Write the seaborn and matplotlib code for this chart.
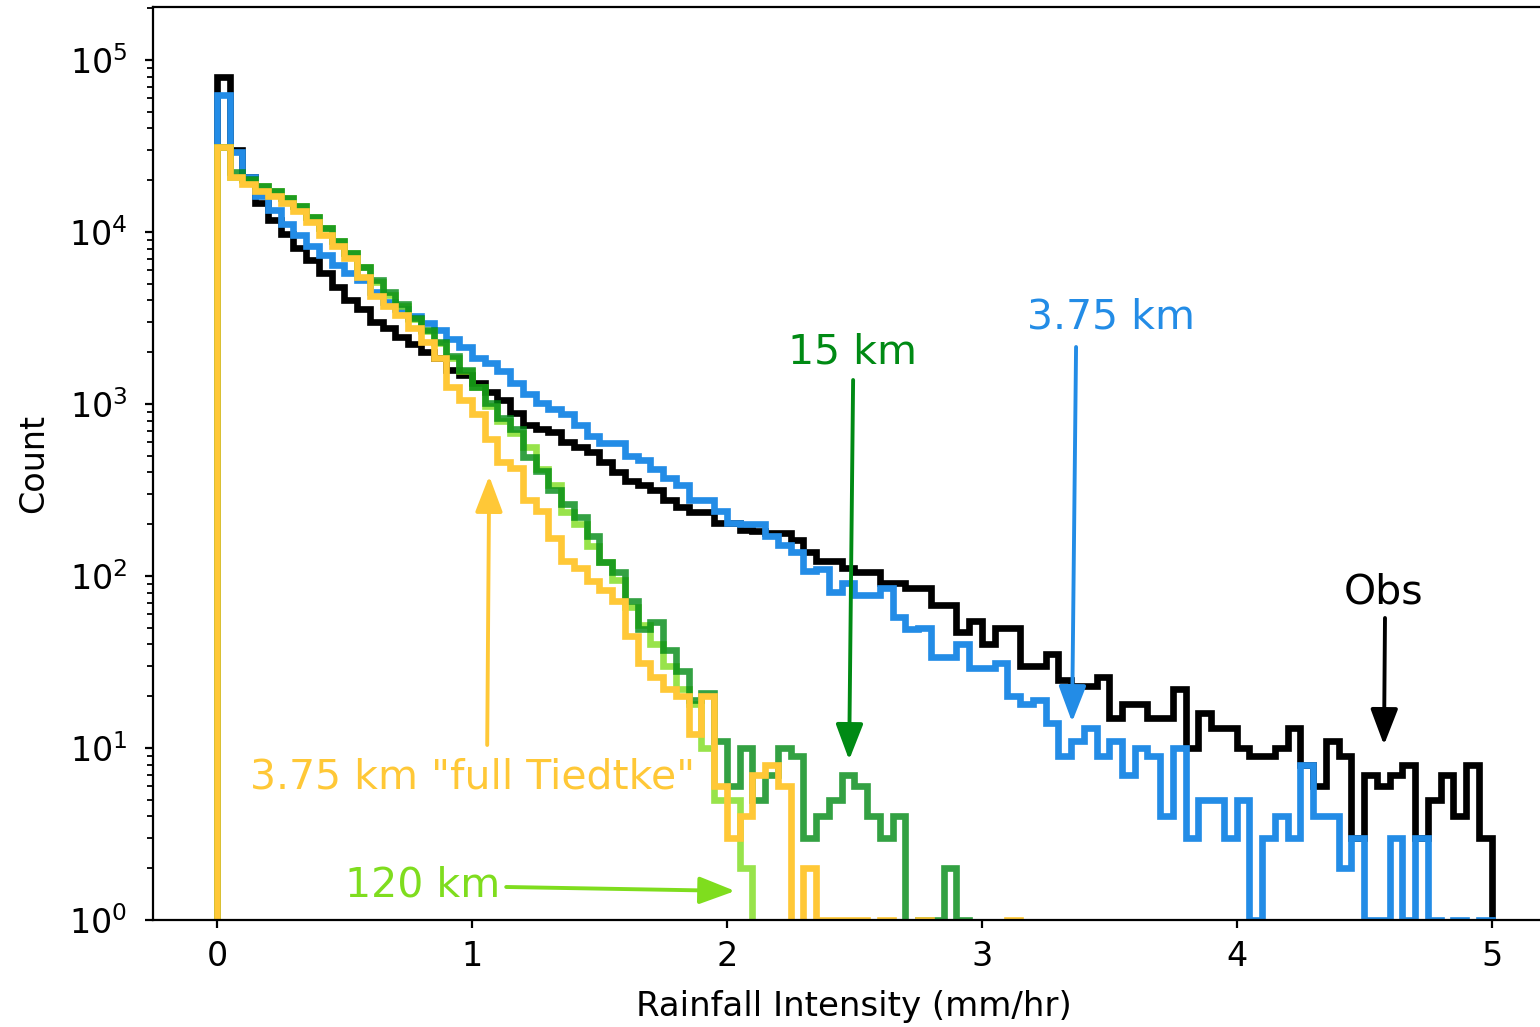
import numpy as np
import pandas as pd
import matplotlib
matplotlib.use("Agg")
import matplotlib.pyplot as plt
import seaborn as sns

# ---------------- data (counts per 0.05 mm/hr bin, 0 .. 5 mm/hr) ----------------
bin_width = 0.05
obs_counts = [80000, 30000, 20900, 14800, 11700, 9800, 8100, 6900, 5750, 4800,
              4000, 3550, 3000, 2750, 2450, 2240, 2000, 1860, 1580, 1480,
              1320, 1170, 1050, 890, 760, 720, 690, 600, 560, 525,
              457, 400, 355, 340, 316, 275, 251, 234, 234, 204,
              204, 186, 182, 178, 178, 162, 138, 123, 123, 112,
              105, 105, 91, 91, 85, 85, 68, 68, 47, 55,
              40, 50, 50, 30, 30, 35, 25, 23, 23, 26,
              15, 18, 18, 15, 15, 22, 10, 16, 13, 13,
              10, 9, 9, 10, 13, 8, 6, 11, 9, 3,
              7, 6, 7, 8, 3, 5, 7, 4, 8, 3]
km375_counts = [63000, 29000, 21000, 16200, 13500, 11200, 9550, 8300, 7400, 6450,
                5750, 5250, 4470, 3900, 3550, 3240, 2950, 2700, 2400, 2140,
                1860, 1740, 1550, 1320, 1150, 1020, 930, 870, 760, 650,
                590, 590, 500, 470, 420, 370, 340, 275, 275, 240,
                204, 200, 200, 170, 151, 138, 107, 110, 81, 91,
                78, 78, 85, 58, 49, 50, 34, 34, 40, 29,
                29, 31, 20, 18, 19, 14, 9, 11, 13, 9,
                11, 7, 10, 9, 4, 10, 3, 5, 5, 3,
                5, 1, 3, 4, 3, 8, 4, 4, 2, 3,
                1, 1, 3, 1, 3, 1, 0, 1, 0, 1]
km15_counts = [31000, 22400, 20400, 18600, 17400, 15800, 14100, 12300, 10500, 8900,
               7600, 6300, 5250, 4470, 3800, 3160, 2700, 2300, 1900, 1580,
               1260, 1020, 830, 720, 490, 407, 316, 263, 219, 170,
               120, 105, 72, 49, 54, 37, 28, 19, 21, 11,
               6, 10, 5, 7, 10, 9, 3, 4, 5, 7,
               6, 4, 3, 4, 0, 1, 1, 2, 1, 0,
               0, 0, 0, 0, 0, 0, 0, 0, 0, 0,
               0, 0, 0, 0, 0, 0, 0, 0, 0, 0,
               0, 0, 0, 0, 0, 0, 0, 0, 0, 0,
               0, 0, 0, 0, 0, 0, 0, 0, 0, 0]
km120_counts = [31000, 21000, 20000, 18600, 17400, 15800, 14100, 12300, 10500, 8900,
                7600, 6300, 5100, 4300, 3700, 3100, 2650, 2250, 1850, 1550,
                1250, 980, 800, 680, 560, 420, 340, 234, 200, 150,
                120, 95, 66, 52, 40, 30, 22, 18, 10, 5,
                5, 2, 0, 0, 0, 0, 0, 0, 0, 0,
                0, 0, 0, 0, 0, 0, 0, 0, 0, 0,
                0, 0, 0, 0, 0, 0, 0, 0, 0, 0,
                0, 0, 0, 0, 0, 0, 0, 0, 0, 0,
                0, 0, 0, 0, 0, 0, 0, 0, 0, 0,
                0, 0, 0, 0, 0, 0, 0, 0, 0, 0]
tiedtke_counts = [31000, 21000, 19000, 17400, 16200, 14800, 13200, 11500, 9550, 8300,
                  7100, 5500, 4270, 3700, 3300, 2750, 2300, 1860, 1260, 1050,
                  870, 630, 457, 427, 275, 240, 166, 123, 112, 93,
                  83, 72, 45, 31, 26, 22, 20, 12, 20, 6,
                  3, 4, 7, 8, 6, 0, 2, 1, 1, 1,
                  1, 0, 1, 0, 0, 1, 0, 0, 0, 0,
                  0, 0, 1, 0, 0, 0, 0, 0, 0, 0,
                  0, 0, 0, 0, 0, 0, 0, 0, 0, 0,
                  0, 0, 0, 0, 0, 0, 0, 0, 0, 0,
                  0, 0, 0, 0, 0, 0, 0, 0, 0, 0]

x_ticks = [0, 1, 2, 3, 4, 5]
x_label = "Rainfall Intensity (mm/hr)"
y_label = "Count"

# ---------------- styling ----------------
sns.set_style("ticks")
plt.rcParams["font.family"] = ["DejaVu Sans"]
plt.rcParams["lines.solid_joinstyle"] = "miter"
plt.rcParams["lines.solid_capstyle"] = "butt"
for k in ["text.color", "axes.labelcolor", "xtick.color", "ytick.color", "axes.edgecolor"]:
    plt.rcParams[k] = "black"

c_obs = "black"
c_blue = "#238ce6"
c_green = "#008a14"
c_lgreen = "#7fdd1e"
c_yellow = "#ffc837"

fig = plt.figure(figsize=(15.4, 10.27), dpi=100)
ax = fig.add_axes([0.0995, 0.1042, 0.9105, 0.8885])

n_bins = len(obs_counts)
centers = (np.arange(n_bins) + 0.5) * bin_width
# one empty bin on each side so that each step outline starts/ends at the baseline
edges = [float(e) for e in np.arange(-1, n_bins + 2) * bin_width]

series = [
    ("Obs", obs_counts, c_obs, 1.0),
    ("3.75 km", km375_counts, c_blue, 1.0),
    ("120 km", km120_counts, c_lgreen, 0.8),
    ("15 km", km15_counts, c_green, 0.8),
    ('3.75 km "full Tiedtke"', tiedtke_counts, c_yellow, 1.0),
]
lw = 4.8
for name, counts, col, alpha in series:
    df = pd.DataFrame({"intensity": centers, "count": counts})
    sns.histplot(data=df, x="intensity", weights="count", bins=edges,
                 element="step", fill=False, color=col, alpha=alpha,
                 linewidth=lw, ax=ax)

ax.set_yscale("log")
ax.set_xlim(-0.25, 5.25)
ax.set_ylim(1, 2.02e5)
ax.set_xticks(x_ticks)
ax.set_xticklabels([str(t) for t in x_ticks])
ax.tick_params(axis="both", which="major", labelsize=24, length=5.5, width=1.6,
               colors="black")
ax.tick_params(axis="x", which="major", pad=9)
ax.tick_params(axis="y", which="major", pad=13)
ax.tick_params(axis="y", which="minor", length=4.3, width=1.3, colors="black")
for sp in ax.spines.values():
    sp.set_linewidth(1.6)
    sp.set_color("black")
ax.set_xlabel(x_label, fontsize=24.5, labelpad=12, color="black")
ax.set_ylabel(y_label, fontsize=24, labelpad=14, color="black")


def px2data(px, py):
    return (px - 216.7) / 255.0, 10 ** ((920.0 - py) / 172.0)


def arrow(tail, tip, col, lw=2.8):
    ax.annotate("", xy=px2data(*tip), xytext=px2data(*tail),
                arrowprops=dict(arrowstyle="-|>,head_length=1.1,head_width=0.42",
                                color=col, lw=lw, shrinkA=0, shrinkB=0,
                                mutation_scale=20))


fs_ann = 29.5
ax.text(*px2data(1111, 317), "3.75 km", color=c_blue, fontsize=fs_ann, ha="center", va="center")
arrow((1076, 347), (1072, 722), c_blue)
ax.text(*px2data(852, 352), "15 km", color=c_green, fontsize=fs_ann, ha="center", va="center")
arrow((853, 380), (849, 760), c_green)
ax.text(*px2data(1384, 593), "Obs", color="black", fontsize=fs_ann, ha="center", va="center")
arrow((1385, 618), (1384, 745), "black")
ax.text(*px2data(472, 778), '3.75 km "full Tiedtke"', color=c_yellow, fontsize=fs_ann,
        ha="center", va="center")
arrow((487, 745), (489, 476), c_yellow)
ax.text(*px2data(422, 886), "120 km", color=c_lgreen, fontsize=fs_ann, ha="center", va="center")
arrow((506, 887), (735, 891), c_lgreen)

fig.savefig("out.png", dpi=100)
